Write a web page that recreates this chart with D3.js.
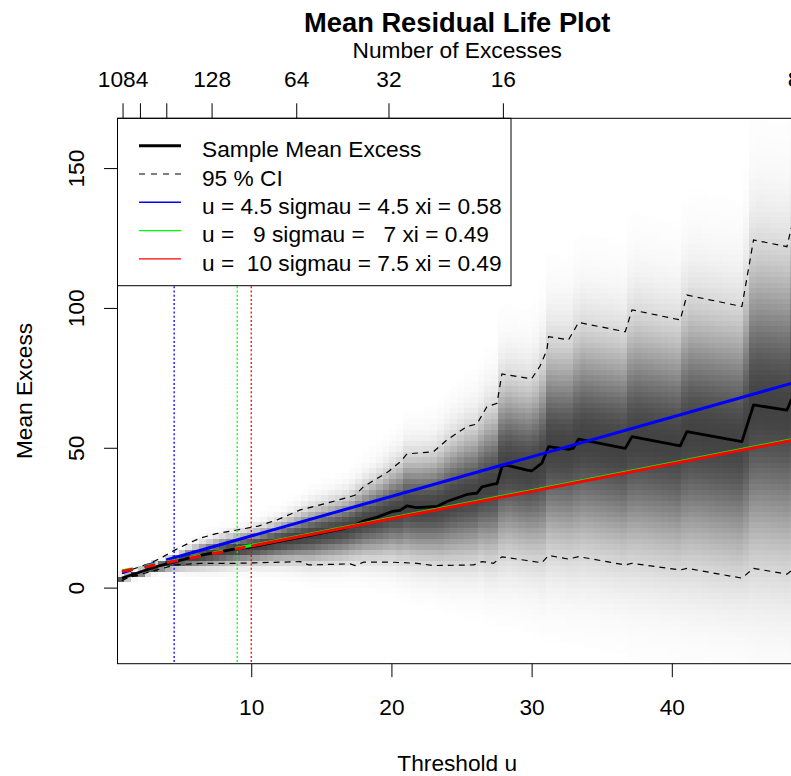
<!DOCTYPE html>
<html><head><meta charset="utf-8">
<script src="https://cdn.jsdelivr.net/npm/d3@7"></script>
<style>
body{margin:0;background:#fff}
svg{display:block}
text{font-family:"Liberation Sans",Arial,Helvetica,sans-serif;fill:#000}
</style>
</head><body>
<svg id="c" width="791" height="776"></svg>
<script>
// ---------- data ----------
// sample mean excess: [threshold u, mean excess]
const meanExcess = [
 [0.78,3.4],[1.5,4.6],[2.5,6.3],[3.5,7.9],[4.58,9.3],[5.5,10.5],[6.36,11.5],[7.5,12.6],
 [8.98,13.9],[10.5,15.0],[12.0,16.5],[13.5,18.0],[15.0,19.5],[16.5,21.0],[17.4,22.4],
 [18.0,23.8],[19.0,25.2],[20.1,27.3],[20.6,27.6],[21.1,29.2],[21.8,28.6],[23.25,29.0],
 [23.96,30.8],[25.39,33.3],[26.1,33.8],[26.46,36.0],[27.28,37.0],[27.53,37.2],[27.88,43.3],
 [28.2,43.8],[29.67,42.0],[30.0,41.7],[30.73,44.5],[31.21,50.4],[32.63,49.4],[32.99,49.9],
 [33.35,53.1],[36.68,49.8],[37.16,54.0],[40.60,50.7],[41.08,55.8],[45.0,52.2],[45.83,65.3],
 [48.21,63.5],[48.52,67.1],[48.93,67.5]
];
const upperCI = [
 [0.78,5.0],[1.5,6.5],[2.8,8.7],[3.7,11.0],[4.58,13.5],[5.5,15.8],[6.36,17.7],[7.5,19.3],
 [8.98,20.6],[10.5,22.0],[11.83,24.2],[13.5,27.8],[15.4,30.2],[17.06,32.5],[17.42,33.1],
 [18.01,36.1],[19.79,41.5],[20.63,45.0],[21.11,47.8],[23.0,48.6],[23.96,52.8],[25.39,57.6],
 [26.1,58.5],[26.81,64.7],[27.53,65.9],[27.88,76.4],[29.67,74.9],[30.0,74.7],[30.61,79.3],
 [31.09,85.0],[31.21,89.7],[32.63,88.6],[33.35,94.8],[36.68,91.5],[37.16,99.3],[40.60,95.7],
 [41.08,104.6],[45.0,100.5],[45.83,124.3],[48.21,121.9],[48.52,128.5],[48.93,130.0]
];
const lowerCI = [
 [0.78,2.5],[1.2,3.5],[2.8,5.7],[4.58,8.1],[6.36,8.7],[8.98,8.7],[13.5,9.3],[14.1,8.1],
 [17.06,8.5],[17.42,7.9],[18.01,9.1],[20.0,9.1],[21.82,8.7],[23.0,7.9],[25.86,8.1],
 [26.46,9.3],[27.28,8.7],[27.88,11.0],[29.67,9.7],[30.0,9.4],[30.73,8.9],[31.21,11.5],
 [32.63,10.2],[33.35,11.1],[36.68,8.1],[37.16,8.7],[40.60,6.3],[41.08,6.9],[45.0,3.4],
 [45.83,6.9],[48.21,4.8],[48.52,6.0],[48.93,5.6]
];
// fitted GPD mean excess lines: threshold, and the line's end points
const fitThresholds = [4.5, 9, 10];
const fitColors = ["#0000ff", "#00ff00", "#ff0000"];
const fitLabels = ["u = 4.5 sigmau = 4.5 xi = 0.58", "u =   9 sigmau =   7 xi = 0.49", "u =  10 sigmau = 7.5 xi = 0.49"];
const fitStart = [[0.78,5.4],[0.78,6.0],[0.78,5.8]];
const fitEnd = [[48.93,73.6],[48.93,53.3],[48.93,53.0]];

const xTicks = [10,20,30,40];
const yTicks = [0,50,100,150];
const topTickU = [0.82,2.06,3.94,7.17,13.21,19.79,27.95,48.69];
const topTickLabels = ["1084","512","256","128","64","32","16","8"];

const legendLabels = ["Sample Mean Excess","95 % CI"].concat(fitLabels);

// ---------- layout ----------
const FS = 22.7;
const L = 117.5, R = 797, T = 118.3, B = 663.7;
const svg = d3.select("#c");
const x = d3.scaleLinear().domain([0.46, 48.93]).range([L, R]);
const y = d3.scaleLinear().domain([-27.2, 167.8]).range([B, T]);

svg.append("defs").append("clipPath").attr("id","clip")
  .append("rect").attr("x",L).attr("y",T).attr("width",R-L).attr("height",B-T);

const plot = svg.append("g").attr("clip-path","url(#clip)");

// ---------- shading (sampling density of the mean excess) ----------
const pw = arr => d3.scaleLinear().domain(arr.map(d=>d[0])).range(arr.map(d=>d[1])).clamp(true);
const meanAt = pw(meanExcess), upAt = pw(upperCI), loAt = pw(lowerCI);
const [u0,u1] = x.domain(), [v0,v1] = y.domain();
const nCol = 100, nRow = 100;
const cw = (u1-u0)/nCol, rh = (v1-v0)/nRow;
const cells = [];
for (let c=0;c<nCol;c++){
  const u = u0 + (c+0.5)*cw;
  const m = meanAt(u), s = Math.max((upAt(u)-loAt(u))/(2*1.96), 0.3);
  for (let r=0;r<nRow;r++){
    const v = v0 + (r+0.5)*rh;
    const z = (v-m)/s;
    const g = 1 - 0.74*Math.exp(-z*z/(2*1.1*1.1));
    if (g < 0.995) cells.push({c, r, g});
  }
}
plot.append("g").attr("shape-rendering","crispEdges")
  .selectAll("rect").data(cells).join("rect")
  .attr("x", d=>x(u0+d.c*cw))
  .attr("width", d=>x(u0+(d.c+1)*cw)-x(u0+d.c*cw)+0.6)
  .attr("y", d=>y(v0+(d.r+1)*rh))
  .attr("height", d=>y(v0+d.r*rh)-y(v0+(d.r+1)*rh)+0.6)
  .attr("fill", d=>{const k=Math.round(d.g*255); return `rgb(${k},${k},${k})`;});

const line = d3.line().x(d=>x(d[0])).y(d=>y(d[1]));

// CI lines
[upperCI, lowerCI].forEach(a=>{
  plot.append("path").attr("d", line(a)).attr("fill","none")
    .attr("stroke","#000").attr("stroke-width",1.2).attr("stroke-dasharray","6,5");
});
// vertical threshold lines
fitThresholds.forEach((t,i)=>{
  plot.append("line").attr("x1",x(t)).attr("x2",x(t)).attr("y1",T).attr("y2",B)
    .attr("stroke",fitColors[i]).attr("stroke-width",1.3).attr("stroke-dasharray","2,2.2");
});
// sample mean excess
plot.append("path").attr("d", line(meanExcess)).attr("fill","none")
  .attr("stroke","#000").attr("stroke-width",2.8).attr("stroke-linejoin","round");
// fitted lines: dashed below threshold, solid above
fitThresholds.forEach((t,i)=>{
  const f = d3.scaleLinear().domain([fitStart[i][0], fitEnd[i][0]]).range([fitStart[i][1], fitEnd[i][1]]);
  const mid = [t, f(t)];
  plot.append("path").attr("d", line([fitStart[i], mid])).attr("fill","none")
    .attr("stroke",fitColors[i]).attr("stroke-width",3).attr("stroke-dasharray","11,12");
  plot.append("path").attr("d", line([mid, fitEnd[i]])).attr("fill","none")
    .attr("stroke",fitColors[i]).attr("stroke-width",3);
});

// ---------- legend ----------
const lg = svg.append("g");
lg.append("rect").attr("x",L).attr("y",T).attr("width",511-L).attr("height",285.7-T)
  .attr("fill","#fff").attr("stroke","#000").attr("stroke-width",1);
const rowY = i => 145.7 + i*28.3;
const legStroke = ["#000","#000"].concat(fitColors);
legendLabels.forEach((lab,i)=>{
  const ln = lg.append("line").attr("x1",139).attr("x2",181).attr("y1",rowY(i)).attr("y2",rowY(i))
    .attr("stroke",legStroke[i]).attr("stroke-width", i===0?3:1.4);
  if (i===1) ln.attr("stroke-dasharray","6,6").attr("stroke-width",1.2);
  lg.append("text").attr("x",202).attr("y",rowY(i)+11.6).attr("font-size",FS)
    .attr("xml:space","preserve").style("white-space","pre").text(lab);
});

// ---------- box & axes ----------
svg.append("rect").attr("x",L).attr("y",T).attr("width",R-L).attr("height",B-T)
  .attr("fill","none").attr("stroke","#000").attr("stroke-width",1);

function styleAxis(g){
  g.select(".domain").remove();
  g.attr("font-family",null).attr("font-size",null);
  g.selectAll("text").attr("font-size",FS).attr("fill","#000");
  g.selectAll("line").attr("stroke","#000").attr("stroke-width",1);
}
svg.append("g").attr("transform",`translate(0,${B})`)
  .call(d3.axisBottom(x).tickValues(xTicks).tickSize(13.5))
  .call(styleAxis)
  .call(g=>g.selectAll("text").attr("y",51.3).attr("dy",null));

svg.append("g").attr("transform",`translate(${L},0)`)
  .call(d3.axisLeft(y).tickValues(yTicks).tickSize(13.5))
  .call(styleAxis)
  .call(g=>g.selectAll("text").attr("x",0).attr("y",0).attr("dy",null)
     .attr("text-anchor","middle").attr("transform","translate(-33.5,0) rotate(-90)"));

const topAx = svg.append("g").attr("transform",`translate(0,${T})`)
  .call(d3.axisTop(x).tickValues(topTickU).tickFormat((d,i)=>topTickLabels[i]).tickSize(15))
  .call(styleAxis)
  .call(g=>g.selectAll("text").attr("y",-31.3).attr("dy",null));
// drop overlapping labels as R does
let lastRight = -Infinity;
topAx.selectAll(".tick").each(function(d){
  const t = d3.select(this).select("text");
  const w = t.node().getComputedTextLength();
  const cx = x(d);
  if (cx - w/2 < lastRight + 8) t.remove(); else lastRight = cx + w/2;
});

// ---------- titles ----------
const cx = (L+R)/2;
svg.append("text").attr("x",cx).attr("y",32).attr("text-anchor","middle")
  .attr("font-size",27.3).attr("font-weight","bold").text("Mean Residual Life Plot");
svg.append("text").attr("x",cx).attr("y",58.3).attr("text-anchor","middle")
  .attr("font-size",FS).text("Number of Excesses");
svg.append("text").attr("x",cx).attr("y",771).attr("text-anchor","middle")
  .attr("font-size",FS).text("Threshold u");
svg.append("text").attr("transform",`translate(32,${(T+B)/2}) rotate(-90)`).attr("text-anchor","middle")
  .attr("font-size",FS).text("Mean Excess");
</script>
</body></html>
